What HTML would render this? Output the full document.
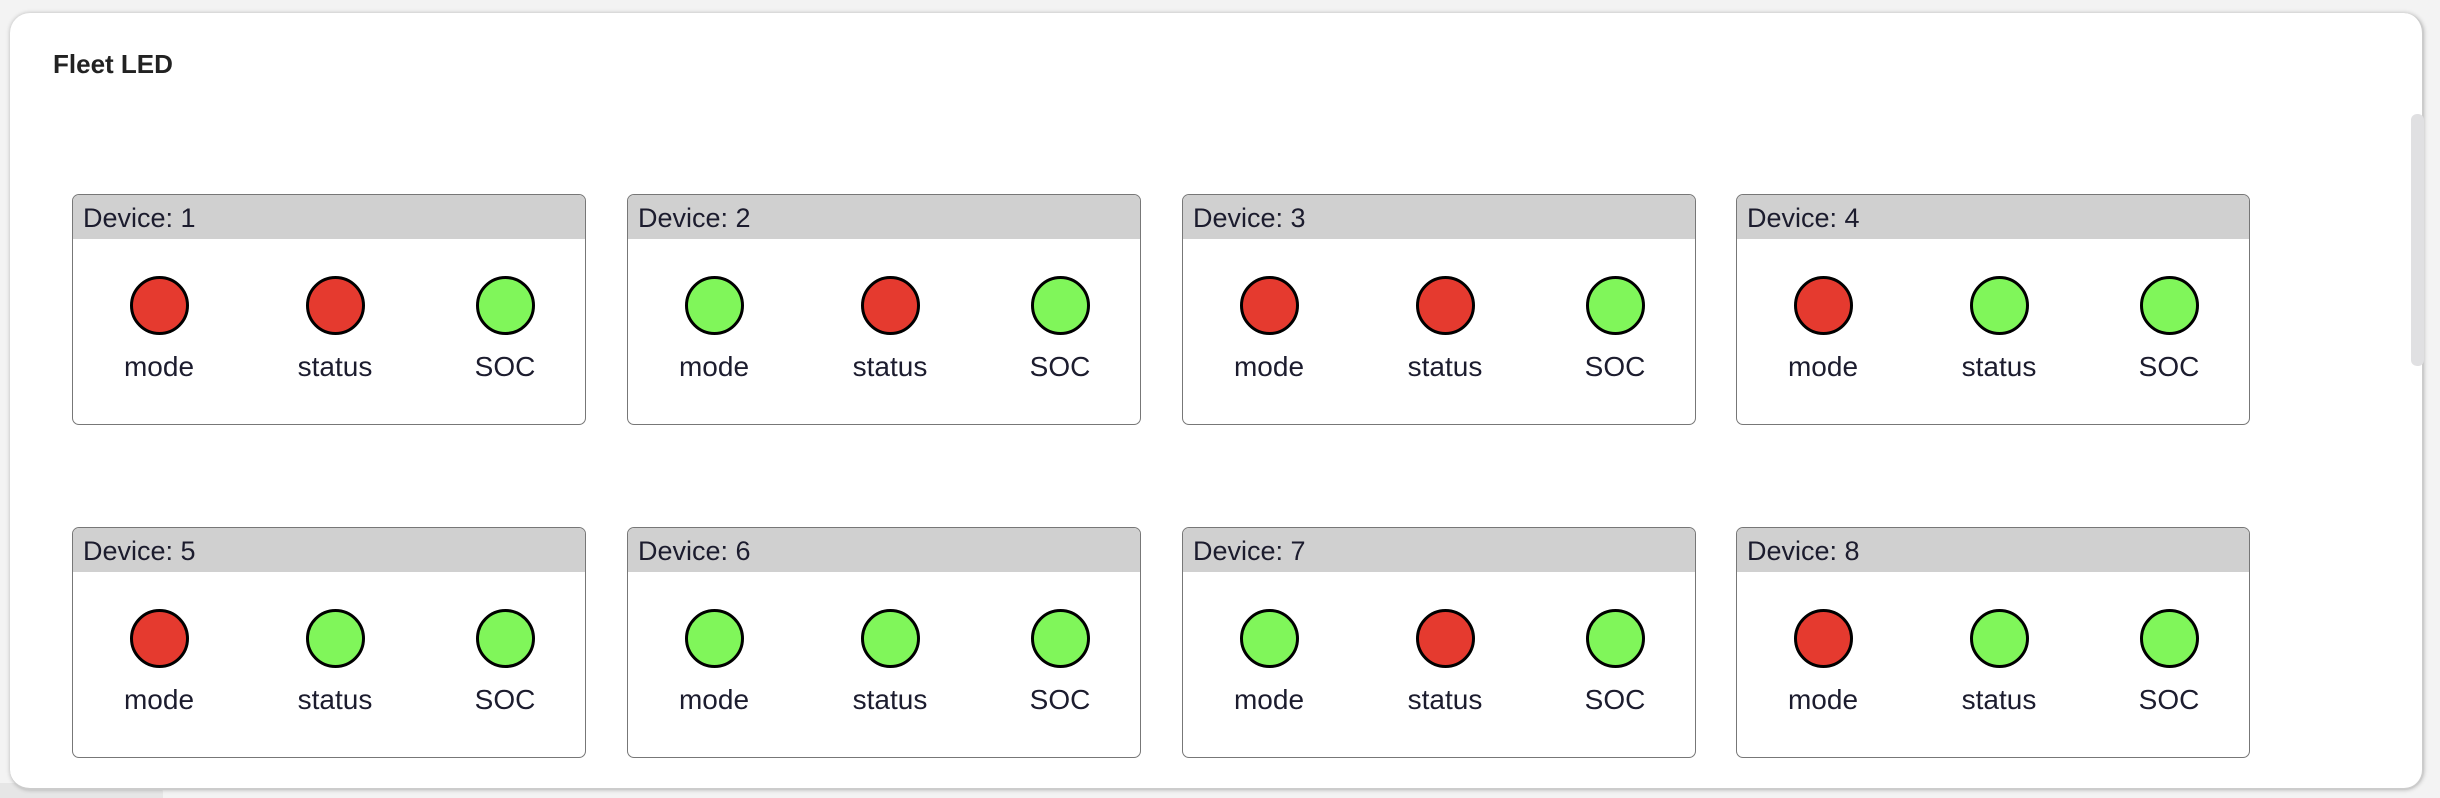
<!DOCTYPE html>
<html><head><meta charset="utf-8"><style>
html,body{margin:0;padding:0;width:2440px;height:798px;background:#f3f3f3;overflow:hidden;font-family:"Liberation Sans",sans-serif}
.panel{position:absolute;left:10px;top:13px;width:2414px;height:777px;background:#fff;border-radius:20px;box-shadow:0 0 4px rgba(0,0,0,.25);border-right:2px solid #ccc;border-bottom:2px solid #ccc;box-sizing:border-box}
.title{position:absolute;left:53px;top:49px;font-size:26px;font-weight:bold;color:#222}
.sb{position:absolute;left:2411px;top:114px;width:13px;height:252px;background:#e0e0e2;border-radius:6px}
.card{position:absolute;width:514px;height:231px;border:1.5px solid #777;border-radius:7px;box-sizing:border-box;overflow:hidden;background:#fff}
.hd{height:44px;background:#d0d0d0;font-size:27px;color:#1c1c2e;padding-left:10px;line-height:46px}
.led{position:absolute;top:81px;width:59px;height:59px;border:3.5px solid #000;border-radius:50%;box-sizing:border-box;margin-left:-29.5px}
.r{background:#e53a2f}.g{background:#80f65a}
.lb{position:absolute;top:156px;font-size:28px;color:#1c1c2e;width:160px;margin-left:-80px;text-align:center}
.bl{position:absolute;left:0;top:783px;width:163px;height:15px;background:#e6e6e6;border-radius:0 10px 0 0}
</style></head><body>
<div class="bl"></div>
<div class="panel"></div>
<div class="title">Fleet LED</div>
<div class="sb"></div>
<div id="c"></div>
<script>
const L=[72,627,1182,1736],T=[194,527];
const S=["rrg","grg","rrg","rgg","rgg","ggg","grg","rgg"];
const X=[86,262,432],N=["mode","status","SOC"];
let h="";
for(let i=0;i<8;i++){
 h+=`<div class="card" style="left:${L[i%4]}px;top:${T[Math.floor(i/4)]}px"><div class="hd">Device: ${i+1}</div>`;
 for(let j=0;j<3;j++){h+=`<div class="led ${S[i][j]}" style="left:${X[j]}px"></div><div class="lb" style="left:${X[j]}px">${N[j]}</div>`;}
 h+="</div>";
}
document.getElementById("c").innerHTML=h;
</script>
</body></html>
